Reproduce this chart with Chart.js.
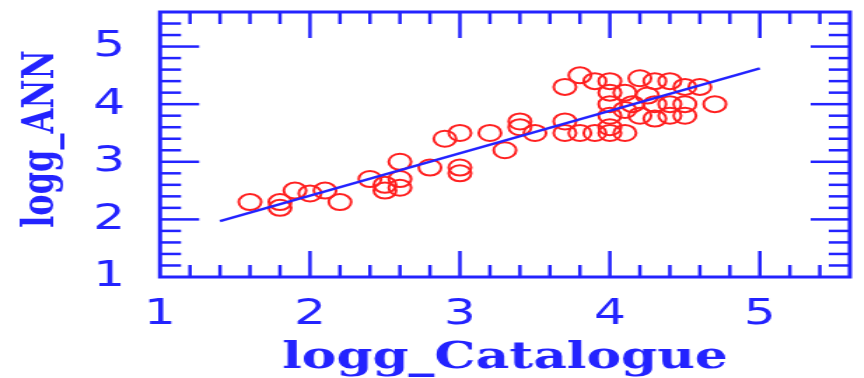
<!DOCTYPE html>
<html>
<head>
<meta charset="utf-8">
<script src="https://cdn.jsdelivr.net/npm/chart.js"></script>
<style>
  html, body { margin: 0; padding: 0; background: #fff; overflow: hidden; }
  /* the reference is stretched sideways, so draw narrow and widen it */
  #wrap { width: 617px; height: 378px; transform: scaleX(1.4); transform-origin: 0 0; }
</style>
</head>
<body>
<div id="wrap"><canvas id="chart"></canvas></div>
<script>
// logg_Catalogue (x) vs logg_ANN (y)
const catalogueX = [1.6, 1.8, 1.8, 1.9, 2.0, 2.1, 2.2, 2.4, 2.5, 2.5, 2.6, 2.6, 2.6, 2.8, 2.9, 3.0, 3.0, 3.0, 3.2, 3.3, 3.4, 3.4, 3.5,
  3.7, 3.8, 3.9, 4.0, 4.0, 4.1, 4.2, 4.3, 4.4, 4.25, 4.5, 4.6, 4.0, 4.15, 4.3, 4.4, 4.5, 4.7, 4.2, 4.3, 4.4, 4.5, 4.0, 4.1,
  3.7, 3.7, 3.8, 3.9, 4.0, 4.1, 4.0];
const annY = [2.3, 2.2, 2.3, 2.5, 2.45, 2.5, 2.3, 2.7, 2.6, 2.5, 2.55, 2.7, 3.0, 2.9, 3.4, 3.5, 2.9, 2.8, 3.5, 3.2, 3.7, 3.6, 3.5,
  4.3, 4.5, 4.4, 4.4, 4.2, 4.2, 4.45, 4.4, 4.4, 4.15, 4.3, 4.3, 4.0, 4.0, 4.0, 4.0, 4.0, 4.0, 3.8, 3.75, 3.8, 3.8, 3.8, 3.9,
  3.7, 3.5, 3.5, 3.5, 3.5, 3.5, 3.6];

// fitted line end points
const fitX = [1.4, 5.0];
const fitY = [1.97, 4.62];

const xTickValues = [1, 2, 3, 4, 5];
const yTickValues = [1, 2, 3, 4, 5];

const BLUE = '#2323ff';
const RED = '#ff2020';

// inward ticks on all four sides plus the frame
const frameTicks = {
  id: 'frameTicks',
  afterDatasetsDraw(chart) {
    const { ctx, chartArea: a, scales: { x, y } } = chart;
    const seg = (x1, y1, x2, y2) => { ctx.beginPath(); ctx.moveTo(x1, y1); ctx.lineTo(x2, y2); ctx.stroke(); };
    ctx.save();
    ctx.strokeStyle = BLUE;
    ctx.lineWidth = 2.5;
    for (let i = 1; i <= 23; i++) {
      const px = x.getPixelForValue(1 + i * 0.2);
      if (px > a.right - 2) break;
      const len = i % 5 === 0 ? 26 : 12;
      seg(px, a.bottom, px, a.bottom - len);
      seg(px, a.top, px, a.top + len);
    }
    for (let i = 1; i <= 23; i++) {
      const py = y.getPixelForValue(1 + i * 0.2);
      if (py < a.top + 2) break;
      const len = i % 5 === 0 ? 28 : 15;
      seg(a.left, py, a.left + len, py);
      seg(a.right, py, a.right - len, py);
    }
    ctx.lineWidth = 3;
    ctx.strokeRect(a.left, a.top, a.right - a.left, a.bottom - a.top);
    ctx.restore();
  },
  afterDraw(chart) {
    const { ctx, chartArea: a } = chart;
    ctx.save();
    ctx.fillStyle = BLUE;
    ctx.textAlign = 'center';
    ctx.textBaseline = 'alphabetic';
    ctx.font = 'bold 37px "DejaVu Serif"';
    ctx.fillText('logg_Catalogue', (a.left + a.right) / 2, 368);
    ctx.translate(38, 139);
    ctx.rotate(-Math.PI / 2);
    ctx.font = 'bold 32px "DejaVu Serif"';
    ctx.fillText('logg_ANN', 0, 0);
    ctx.restore();
  }
};

new Chart(document.getElementById('chart'), {
  type: 'scatter',
  data: {
    datasets: [
      {
        data: catalogueX.map((v, i) => ({ x: v, y: annY[i] })),
        pointStyle: 'circle',
        pointRadius: 8,
        borderColor: RED,
        backgroundColor: 'rgba(0,0,0,0)',
        borderWidth: 2,
        order: 2
      },
      {
        type: 'line',
        data: fitX.map((v, i) => ({ x: v, y: fitY[i] })),
        borderColor: BLUE,
        borderWidth: 2.5,
        pointRadius: 0,
        fill: false,
        order: 1
      }
    ]
  },
  options: {
    responsive: true,
    maintainAspectRatio: false,
    animation: false,
    layout: { padding: { top: 12, right: 1.3, left: 0, bottom: 0 } },
    plugins: { legend: { display: false }, tooltip: { enabled: false } },
    scales: {
      x: {
        type: 'linear',
        min: 1,
        max: 5.6,
        afterBuildTicks: s => { s.ticks = xTickValues.map(v => ({ value: v })); },
        afterFit: s => { s.height = 101; s.paddingLeft = 0; s.paddingRight = 0; },
        grid: { display: false, drawTicks: false },
        border: { display: false },
        ticks: { color: BLUE, padding: 16, maxRotation: 0, autoSkip: false, font: { family: 'DejaVu Sans', size: 36 } }
      },
      y: {
        type: 'linear',
        min: 1,
        max: 5.6,
        afterBuildTicks: s => { s.ticks = yTickValues.map(v => ({ value: v })); },
        afterFit: s => { s.width = 114.3; s.paddingTop = 0; s.paddingBottom = 0; },
        grid: { display: false, drawTicks: false },
        border: { display: false },
        ticks: { color: BLUE, padding: 25, crossAlign: 'center', autoSkip: false, font: { family: 'DejaVu Sans', size: 36 } }
      }
    }
  },
  plugins: [frameTicks]
});
</script>
</body>
</html>
